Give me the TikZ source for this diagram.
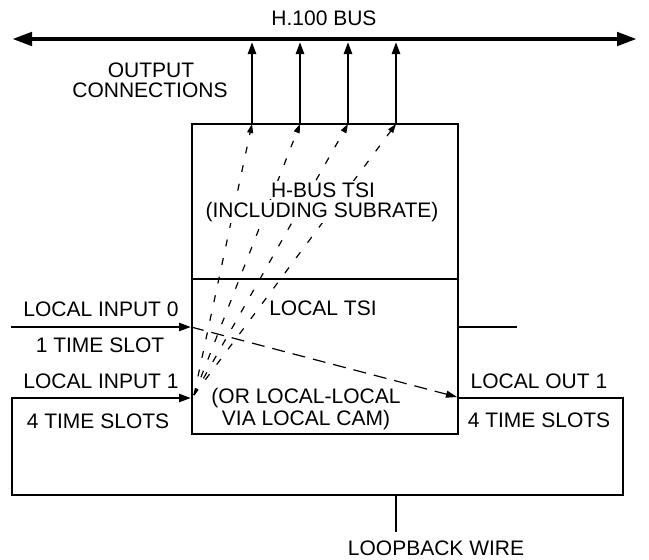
\documentclass[tikz,border=0pt]{standalone}
\usepackage{fontspec}
\setmainfont{Liberation Sans}
\usetikzlibrary{arrows.meta}
\begin{document}
\begin{tikzpicture}[x=1pt,y=-1pt,
    lbl/.style={anchor=base,inner sep=0pt,font=\fontsize{21}{21}\selectfont},
    boxlbl/.style={lbl,fill=white,inner sep=1.5pt},
    tsibox/.style={draw,line width=2.8pt,inner sep=0pt,outer sep=0pt,
      minimum width=266pt,minimum height=155pt,anchor=north west},
    wire/.style={line width=2.5pt},
    tip/.style={-{Triangle[length=12pt,width=8pt]}},
    fan/.style={line width=1.2pt,dash pattern=on 7pt off 12pt,
      -{Triangle[length=9pt,width=6pt]}}]
  \useasboundingbox (0,0) rectangle (649,560);

  % TSI boxes
  \node[tsibox] (hbus) at (192,124) {};
  \node[tsibox] (ltsi) at (192,279) {};

  % H.100 bus
  \coordinate (busL) at (12,39);
  \coordinate (busR) at (637,39);
  \draw[line width=4.5pt,{Triangle[length=20pt,width=13pt]}-{Triangle[length=20pt,width=13pt]}] (busL) -- (busR);
  \node[lbl] (tbus) at (324,25) {H.100 BUS};

  % output connections
  \coordinate (fanO) at (194,395);
  \foreach \x [count=\i] in {252,300,348,396} {
    \coordinate (out\i) at (\x,124);
    \coordinate (bus\i) at (\x,42);
    \draw[wire,tip] (out\i) -- (bus\i);
    \draw[fan] (fanO) -- (out\i);
  }
  \node[lbl] (toutA) at (151,77) {OUTPUT};
  \node[lbl] (toutB) at (150,97) {CONNECTIONS};

  % box texts
  \node[boxlbl] (thbusA) at (323,197) {H-BUS TSI};
  \node[boxlbl] (thbusB) at (322,217) {(INCLUDING SUBRATE)};
  \node[boxlbl] (tltsi) at (323,315) {LOCAL TSI};
  \node[lbl] (tllA) at (306,403) {(OR LOCAL-LOCAL};
  \node[lbl] (tllB) at (306,425) {VIA LOCAL CAM)};

  % local input 0
  \coordinate (in0s) at (11,327);
  \coordinate (in0) at (191,327);
  \draw[wire,tip] (in0s) -- (in0);
  \node[lbl] (tin0) at (101,316) {LOCAL INPUT 0};
  \node[lbl] (tslot0) at (100,352) {1 TIME SLOT};

  % local input 0 to local out 1
  \coordinate (lo1) at (458,398);
  \draw[line width=1.2pt,dash pattern=on 13pt off 8pt,-{Triangle[length=11pt,width=7pt]}] (in0) -- (457,397);

  % stub on the right
  \coordinate (stubA) at (458,327);
  \coordinate (stubB) at (517,327);
  \draw[wire] (stubA) -- (stubB);

  % loopback wire
  \coordinate (lpR) at (623,398);
  \coordinate (lpRB) at (623,495);
  \coordinate (lpLB) at (12,495);
  \coordinate (lpL) at (12,398);
  \coordinate (in1) at (191,398);
  \draw[wire,tip] (lo1) -- (lpR) -- (lpRB) -- (lpLB) -- (lpL) -- (in1);
  \coordinate (stemA) at (396,495);
  \coordinate (stemB) at (396,532);
  \draw[wire] (stemA) -- (stemB);

  \node[lbl] (tin1) at (101,388) {LOCAL INPUT 1};
  \node[lbl] (tslot1) at (98,428) {4 TIME SLOTS};
  \node[lbl] (tlo1) at (539,388) {LOCAL OUT 1};
  \node[lbl] (tslot2) at (539,427) {4 TIME SLOTS};
  \node[lbl] (tloop) at (436,555) {LOOPBACK WIRE};
\end{tikzpicture}
\end{document}
